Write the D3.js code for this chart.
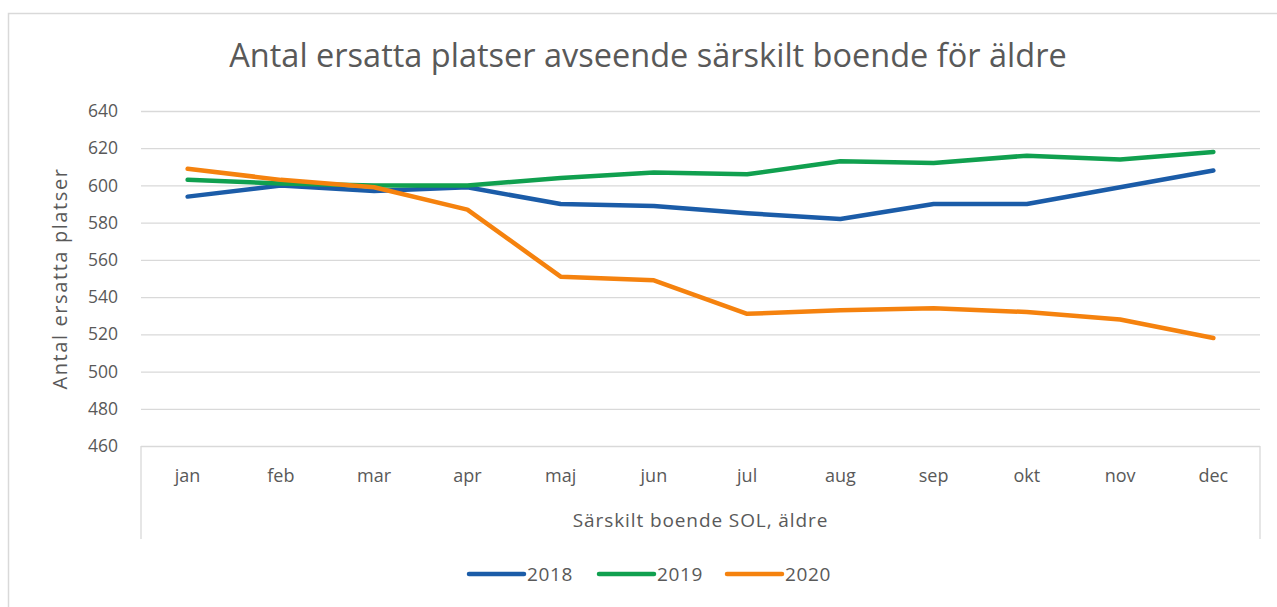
<!DOCTYPE html>
<html>
<head>
<meta charset="utf-8">
<script src="https://cdn.jsdelivr.net/npm/d3@7"></script>
<style>
  body { margin: 0; background: #fff; }
  svg text { font-family: "Open Sans", sans-serif; fill: #595959; }
</style>
</head>
<body>
<svg id="chart" width="1277" height="607"></svg>
<script>
const months = ["jan", "feb", "mar", "apr", "maj", "jun", "jul", "aug", "sep", "okt", "nov", "dec"];
const years = ["2018", "2019", "2020"];
const values2018 = [594, 600, 597, 599, 590, 589, 585, 582, 590, 590, 599, 608];
const values2019 = [603, 601, 600, 600, 604, 607, 606, 613, 612, 616, 614, 618];
const values2020 = [609, 603, 599, 587, 551, 549, 531, 533, 534, 532, 528, 518];
const yTicks = [460, 480, 500, 520, 540, 560, 580, 600, 620, 640];
const colors = ["#1b5ca8", "#10a04f", "#f5820e"];

const series = years.map((y, i) => ({ year: y, values: [values2018, values2019, values2020][i] }));

const svg = d3.select("#chart");
const margin = { top: 111, left: 141, right: 1260, bottom: 446 };

// chart frame
svg.append("rect")
  .attr("x", 8.5).attr("y", 13.5)
  .attr("width", 1300).attr("height", 620)
  .attr("fill", "#fff").attr("stroke", "#d9d9d9").attr("stroke-width", 1.5);

const x = d3.scaleBand().domain(months).range([margin.left, margin.right]);
const y = d3.scaleLinear().domain([460, 640]).range([margin.bottom, margin.top]);

// gridlines
svg.append("g")
  .attr("transform", `translate(${margin.left},0)`)
  .call(d3.axisLeft(y).tickValues(yTicks).tickSize(-(margin.right - margin.left)).tickFormat(""))
  .call(g => g.select(".domain").remove())
  .call(g => g.selectAll("line").attr("stroke", "#d9d9d9").attr("stroke-width", 1.3));

// y tick labels
svg.append("g")
  .selectAll("text")
  .data(yTicks)
  .enter()
  .append("text")
  .attr("x", 118)
  .attr("y", d => y(d))
  .attr("dy", "0.35em")
  .attr("text-anchor", "end")
  .style("font-size", "17.5px")
  .text(d => d);

// category axis box
const axisBox = svg.append("g");
axisBox.append("line")
  .attr("x1", margin.left).attr("x2", margin.left)
  .attr("y1", margin.bottom).attr("y2", 539)
  .attr("stroke", "#d9d9d9").attr("stroke-width", 1.3);
axisBox.append("line")
  .attr("x1", margin.right).attr("x2", margin.right)
  .attr("y1", margin.bottom).attr("y2", 539)
  .attr("stroke", "#d9d9d9").attr("stroke-width", 1.3);

svg.append("g")
  .selectAll("text")
  .data(months)
  .enter()
  .append("text")
  .attr("x", d => x(d) + x.bandwidth() / 2)
  .attr("y", 482)
  .attr("text-anchor", "middle")
  .style("font-size", "18px")
  .text(d => d);

// lines
const line = d3.line()
  .x((d, i) => x(months[i]) + x.bandwidth() / 2)
  .y(d => y(d));

svg.append("g")
  .selectAll("path")
  .data(series)
  .enter()
  .append("path")
  .attr("fill", "none")
  .attr("stroke", (d, i) => colors[i])
  .attr("stroke-width", 4.5)
  .attr("stroke-linecap", "round")
  .attr("stroke-linejoin", "round")
  .attr("d", d => line(d.values));

// title
svg.append("text")
  .attr("x", 648)
  .attr("y", 67)
  .attr("text-anchor", "middle")
  .style("font-size", "32.5px")
  .text("Antal ersatta platser avseende särskilt boende för äldre");

// axis titles
svg.append("text")
  .attr("x", (margin.left + margin.right) / 2)
  .attr("y", 527)
  .attr("text-anchor", "middle")
  .style("font-size", "19px")
  .style("letter-spacing", "0.9px")
  .text("Särskilt boende SOL, äldre");

svg.append("text")
  .attr("transform", `translate(67,${(margin.top + margin.bottom) / 2}) rotate(-90)`)
  .attr("text-anchor", "middle")
  .style("font-size", "20px")
  .style("letter-spacing", "1.6px")
  .text("Antal ersatta platser");

// legend
const legendX = [469, 599, 727];
const legend = svg.append("g")
  .selectAll("g")
  .data(series)
  .enter()
  .append("g")
  .attr("transform", (d, i) => `translate(${legendX[i]},574)`);

legend.append("line")
  .attr("x1", 0).attr("x2", 55)
  .attr("stroke", (d, i) => colors[i])
  .attr("stroke-width", 4.5)
  .attr("stroke-linecap", "round");

legend.append("text")
  .attr("x", 58)
  .attr("dy", "0.35em")
  .style("font-size", "19px")
  .style("letter-spacing", "0.6px")
  .text(d => d.year);
</script>
</body>
</html>
